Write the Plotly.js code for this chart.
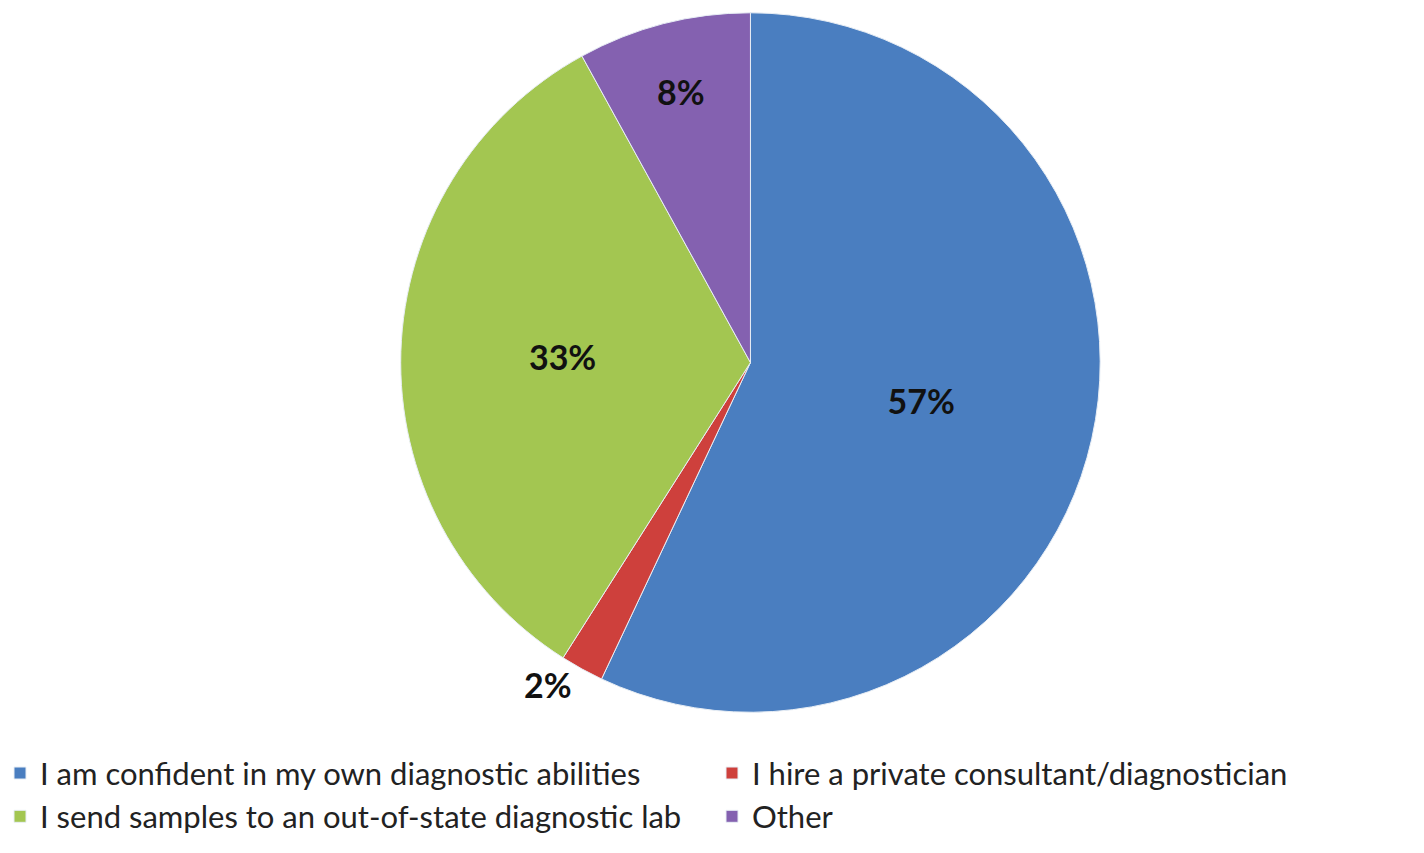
<!DOCTYPE html>
<html>
<head>
<meta charset="utf-8">
<script src="https://cdn.plot.ly/plotly-3.0.1.min.js"></script>
<style>html,body{margin:0;padding:0;background:#fff;}#chart{width:1424px;height:853px;}</style>
</head>
<body>
<div id="chart"></div>
<script>
const categories = [
  "I am confident in my own diagnostic abilities",
  "I hire a private consultant/diagnostician",
  "I send samples to an out-of-state diagnostic lab",
  "Other"
];
const values = [57, 2, 33, 8];
const colors = ["#4A7EC0", "#CE403C", "#A3C651", "#8461B0"];
const labelPositions = ["inside", "outside", "inside", "inside"];

const trace = {
  type: "pie",
  labels: categories,
  values: values,
  sort: false,
  direction: "clockwise",
  rotation: 0,
  marker: {colors: colors, line: {color: "#e8eef5", width: 1}},
  textinfo: "percent",
  texttemplate: "%{percent:.0%}",
  textposition: labelPositions,
  insidetextorientation: "horizontal",
  textfont: {family: "Lato, 'Open Sans', sans-serif", size: 34, color: "#111", weight: "bold"},
  outsidetextfont: {family: "Lato, 'Open Sans', sans-serif", size: 34, color: "#111", weight: "bold"},
  domain: {x: [0.281, 0.773], y: [0.165, 0.985]},
  hoverinfo: "label+percent"
};

const layout = {
  width: 1424,
  height: 853,
  margin: {l: 0, r: 0, t: 0, b: 0},
  paper_bgcolor: "#ffffff",
  showlegend: true,
  legend: {
    orientation: "h",
    x: 0.0, y: 0.125,
    xanchor: "left", yanchor: "top",
    font: {family: "Lato, 'Open Sans', sans-serif", size: 31, color: "#222"},
    itemwidth: 30,
    entrywidth: 0.5,
    entrywidthmode: "fraction",
    tracegroupgap: 0
  }
};

Plotly.newPlot("chart", [trace], layout, {displayModeBar: false});
</script>
</body>
</html>
